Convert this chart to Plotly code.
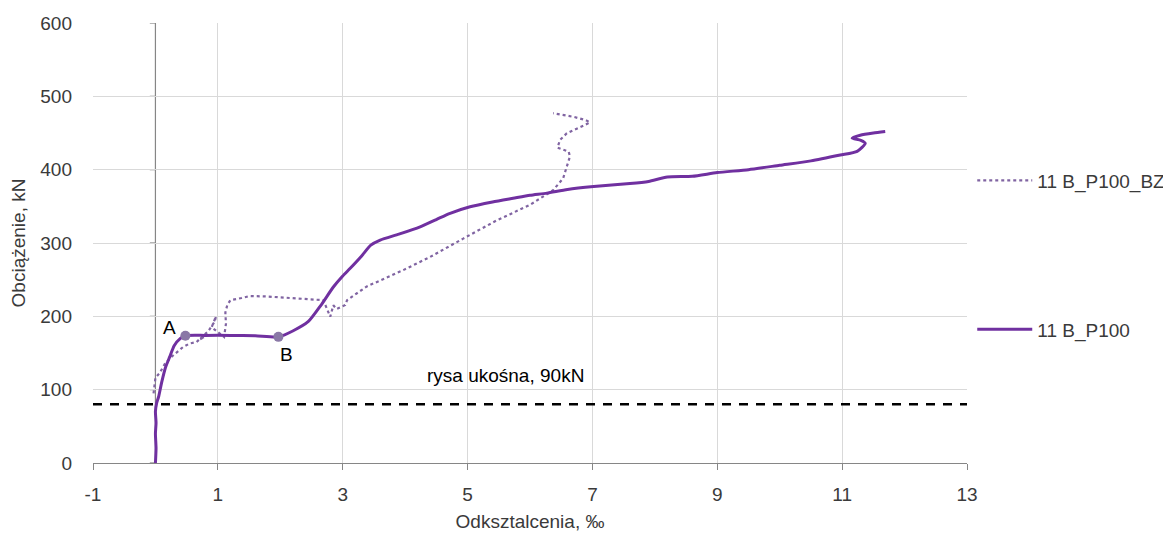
import plotly.graph_objects as go

# 11 B_P100 (solid)
p100_x = [0, 0.01, 0.0, 0.01, 0.0, 0.02, 0.05, 0.1, 0.16, 0.23, 0.3, 0.4, 0.48, 0.8, 1.2, 1.6, 1.97,
          2.2, 2.45, 2.65, 2.85, 3.0, 3.12, 3.3, 3.45, 3.6, 3.9, 4.24, 4.5, 4.72, 5.04, 5.4, 5.73, 6.0,
          6.27, 6.6, 7.02, 7.6, 7.9, 8.2, 8.6, 9.0, 9.5, 10.0, 10.5, 10.97, 11.24, 11.37, 11.3, 11.16,
          11.29, 11.5, 11.69]
p100_y = [0, 20, 40, 55, 70, 82, 90, 110, 130, 145, 160, 170, 173.6, 174, 174, 173.5, 172,
          180, 193, 215, 240, 255, 265.5, 282, 297, 304, 312, 322, 332, 340.5, 349.5, 356, 361, 365,
          368, 373, 377, 381, 384, 390, 391, 396, 400, 406, 412, 420, 425, 436, 440, 443,
          447, 450, 452]

# 11 B_P100_BZ (dotted)
bz_x = [-0.03, 0.0, 0.07, 0.15, 0.26, 0.44, 0.55, 0.66, 0.72, 0.79, 0.7, 0.85, 0.95, 0.97, 0.9, 1.0,
        1.1, 1.13, 1.12, 1.15, 1.2, 1.38, 1.51, 1.8, 2.16, 2.5, 2.69, 2.8, 2.85, 2.9, 3.04, 3.07, 3.38,
        3.97, 4.4, 4.93, 5.47, 6.0, 6.37, 6.53, 6.62, 6.64, 6.62, 6.44, 6.48, 6.59, 6.88, 6.96, 6.88,
        6.7, 6.37]
bz_y = [95, 116, 123, 135, 145, 158, 163, 165, 170, 172, 168, 180, 193, 200, 185, 178,
        172, 190, 205, 215, 222, 225, 227.7, 227, 225, 223, 222, 199.5, 215, 210, 215.5, 222, 240.5,
        263, 281, 306, 331, 352, 372, 388, 411, 418, 424.5, 430, 440.5, 449.6, 461, 464.6, 468,
        472, 477]

# points A, B
pt_x = [0.48, 1.97]
pt_y = [173.6, 172]
pt_labels = ["A", "B"]

# diagonal crack line
crack_x = [-1, 13]
crack_y = [80, 80]

x_ticks = [-1, 1, 3, 5, 7, 9, 11, 13]
x_tick_labels = ["-1", "1", "3", "5", "7", "9", "11", "13"]
y_ticks = [0, 100, 200, 300, 400, 500, 600]

FONT = "Liberation Sans"
TXT = "#3a3a3a"

fig = go.Figure()
fig.add_trace(go.Scatter(x=crack_x, y=crack_y, mode="lines", showlegend=False,
                         line=dict(color="black", width=2.5, dash="9px,8px"), hoverinfo="skip"))
fig.add_trace(go.Scatter(x=bz_x, y=bz_y, mode="lines", name="11 B_P100_BZ", legendgroup="a",
                         line=dict(color="#8064a2", width=2.2, dash="dot")))
fig.add_trace(go.Scatter(x=p100_x, y=p100_y, mode="lines", name="11 B_P100", legendgroup="b",
                         line=dict(color="#7030a0", width=3, shape="spline", smoothing=0.6)))
fig.add_trace(go.Scatter(x=pt_x, y=pt_y, mode="markers", showlegend=False,
                         marker=dict(color="#8a78a6", size=10)))

fig.add_annotation(x=pt_x[0], y=pt_y[0], text=pt_labels[0], showarrow=False,
                   xshift=-16, yshift=8, font=dict(size=19, color="black", family=FONT))
fig.add_annotation(x=pt_x[1], y=pt_y[1], text=pt_labels[1], showarrow=False,
                   xshift=8, yshift=-18, font=dict(size=19, color="black", family=FONT))
fig.add_annotation(x=5.6, y=120, text="rysa ukośna, 90kN", showarrow=False,
                   font=dict(size=19, color="black", family=FONT))

# vertical axis at x=0 with tick marks
shapes = [dict(type="line", xref="x", yref="y", x0=0, x1=0, y0=0, y1=600,
               line=dict(color="#868686", width=1.2), layer="below")]
for t in y_ticks:
    shapes.append(dict(type="line", xref="x", yref="y", x0=-0.09, x1=0, y0=t, y1=t,
                       line=dict(color="#868686", width=1.2), layer="below"))
fig.update_layout(shapes=shapes)

fig.update_layout(
    width=1163, height=527,
    margin=dict(l=85, r=204, t=15, b=72, autoexpand=False),
    plot_bgcolor="white", paper_bgcolor="white",
    font=dict(family=FONT, size=19, color=TXT),
    xaxis=dict(range=[-1, 13], tickvals=x_ticks, ticktext=x_tick_labels, showgrid=True,
               gridcolor="#d9d9d9",
               showline=True, linecolor="#868686", linewidth=1.2, ticks="outside",
               ticklen=6, tickcolor="#868686", zeroline=False, automargin=False,
               ticklabelstandoff=8,
               title=dict(text="Odksztalcenia, ‰", font=dict(size=19, color=TXT), standoff=10),
               tickfont=dict(size=19, color=TXT)),
    yaxis=dict(range=[0, 600], tickvals=y_ticks, showgrid=True, gridcolor="#d9d9d9",
               zeroline=False, showline=False, ticks="", automargin=False,
               ticklabelstandoff=20,
               title=dict(text="Obciążenie, kN", font=dict(size=19, color=TXT), standoff=10),
               tickfont=dict(size=19, color=TXT)),
    legend=dict(x=1.006, y=0.685, xanchor="left", yanchor="top", tracegroupgap=121,
                font=dict(size=19, color=TXT), itemwidth=55, bgcolor="rgba(0,0,0,0)"),
)

fig.write_html("out.html")
